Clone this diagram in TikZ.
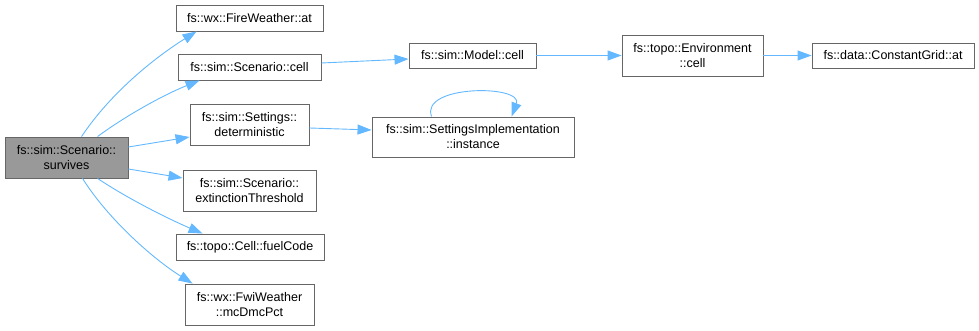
\documentclass[tikz,border=0pt]{standalone}
\usepackage{fontspec}
\setmainfont{Liberation Sans}
\usetikzlibrary{arrows.meta,calc}
\definecolor{boxline}{HTML}{666666}
\definecolor{rootfill}{HTML}{999999}
\definecolor{edgeblue}{HTML}{63B8FF}
\begin{document}
\begin{tikzpicture}[x=1pt,y=1pt,
  box/.style={draw=boxline, fill=white, line width=0.9pt, inner sep=0pt,
    align=center, font=\fontsize{12.5}{15}\selectfont, text=black},
  root/.style={box, fill=rootfill},
  call/.style={draw=edgeblue, line width=0.9pt,
    -{Triangle[length=14pt,width=10pt,fill=edgeblue]}},
]
\useasboundingbox (0,0) rectangle (979,331);

% caller
\node[root, minimum width=123pt, minimum height=41pt] (surv) at (66.5,173.5)
  {fs::sim::Scenario::\\survives};

% direct callees
\node[box, minimum width=147pt, minimum height=26pt] (fwat) at (249.5,313) {fs::wx::FireWeather::at};
\node[box, minimum width=143pt, minimum height=26pt] (scell) at (249.5,264) {fs::sim::Scenario::cell};
\node[box, minimum width=119pt, minimum height=41pt] (det) at (249.5,206.5) {fs::sim::Settings::\\deterministic};
\node[box, minimum width=133pt, minimum height=41pt] (ext) at (249.5,140.5) {fs::sim::Scenario::\\extinctionThreshold};
\node[box, minimum width=148pt, minimum height=26pt] (fuel) at (250,84) {fs::topo::Cell::fuelCode};
\node[box, minimum width=129pt, minimum height=41pt] (mcd) at (249.5,26.5) {fs::wx::FwiWeather\\::mcDmcPct};

% deeper calls
\node[box, minimum width=127pt, minimum height=25pt] (mcell) at (472.5,275.5) {fs::sim::Model::cell};
\node[box, minimum width=202pt, minimum height=40pt] (inst) at (473,194) {fs::sim::SettingsImplementation\\::instance};
\node[box, minimum width=141pt, minimum height=41pt] (env) at (692.5,275.5) {fs::topo::Environment\\::cell};
\node[box, minimum width=162pt, minimum height=25pt] (cgat) at (893,275.5) {fs::data::ConstantGrid::at};

% calls from survives
\draw[call] ($(surv.north west)+(77,0)$) .. controls +(30,45) and +(-40,-25) .. ($(fwat.south west)+(21,0)$);
\draw[call] ($(surv.north west)+(93,0)$) .. controls +(30,22) and +(-35,-14) .. ($(scell.south west)+(22,0)$);
\draw[call] ($(surv.east)+(0,10.5)$) -- ($(det.west)+(0,-12.5)$);
\draw[call] ($(surv.east)+(0,-11.5)$) -- ($(ext.west)+(0,12.5)$);
\draw[call] ($(surv.south west)+(93,0)$) .. controls +(30,-20) and +(-35,15) .. ($(fuel.north west)+(27,0)$);
\draw[call] ($(surv.south west)+(78,0)$) .. controls +(25,-40) and +(-40,25) .. ($(mcd.north west)+(8,0)$);

% further calls
\draw[call] ($(scell.east)+(0,4)$) -- ($(mcell.west)+(0,-3.5)$);
\draw[call] ($(det.east)+(0,-3.5)$) -- ($(inst.west)+(0,7)$);
\draw[call] ($(inst.north west)+(60,0)$) .. controls +(-12,32) and +(12,32) .. ($(inst.north west)+(140,0)$);
\draw[call] (mcell.east) -- (env.west);
\draw[call] (env.east) -- (cgat.west);
\end{tikzpicture}
\end{document}
